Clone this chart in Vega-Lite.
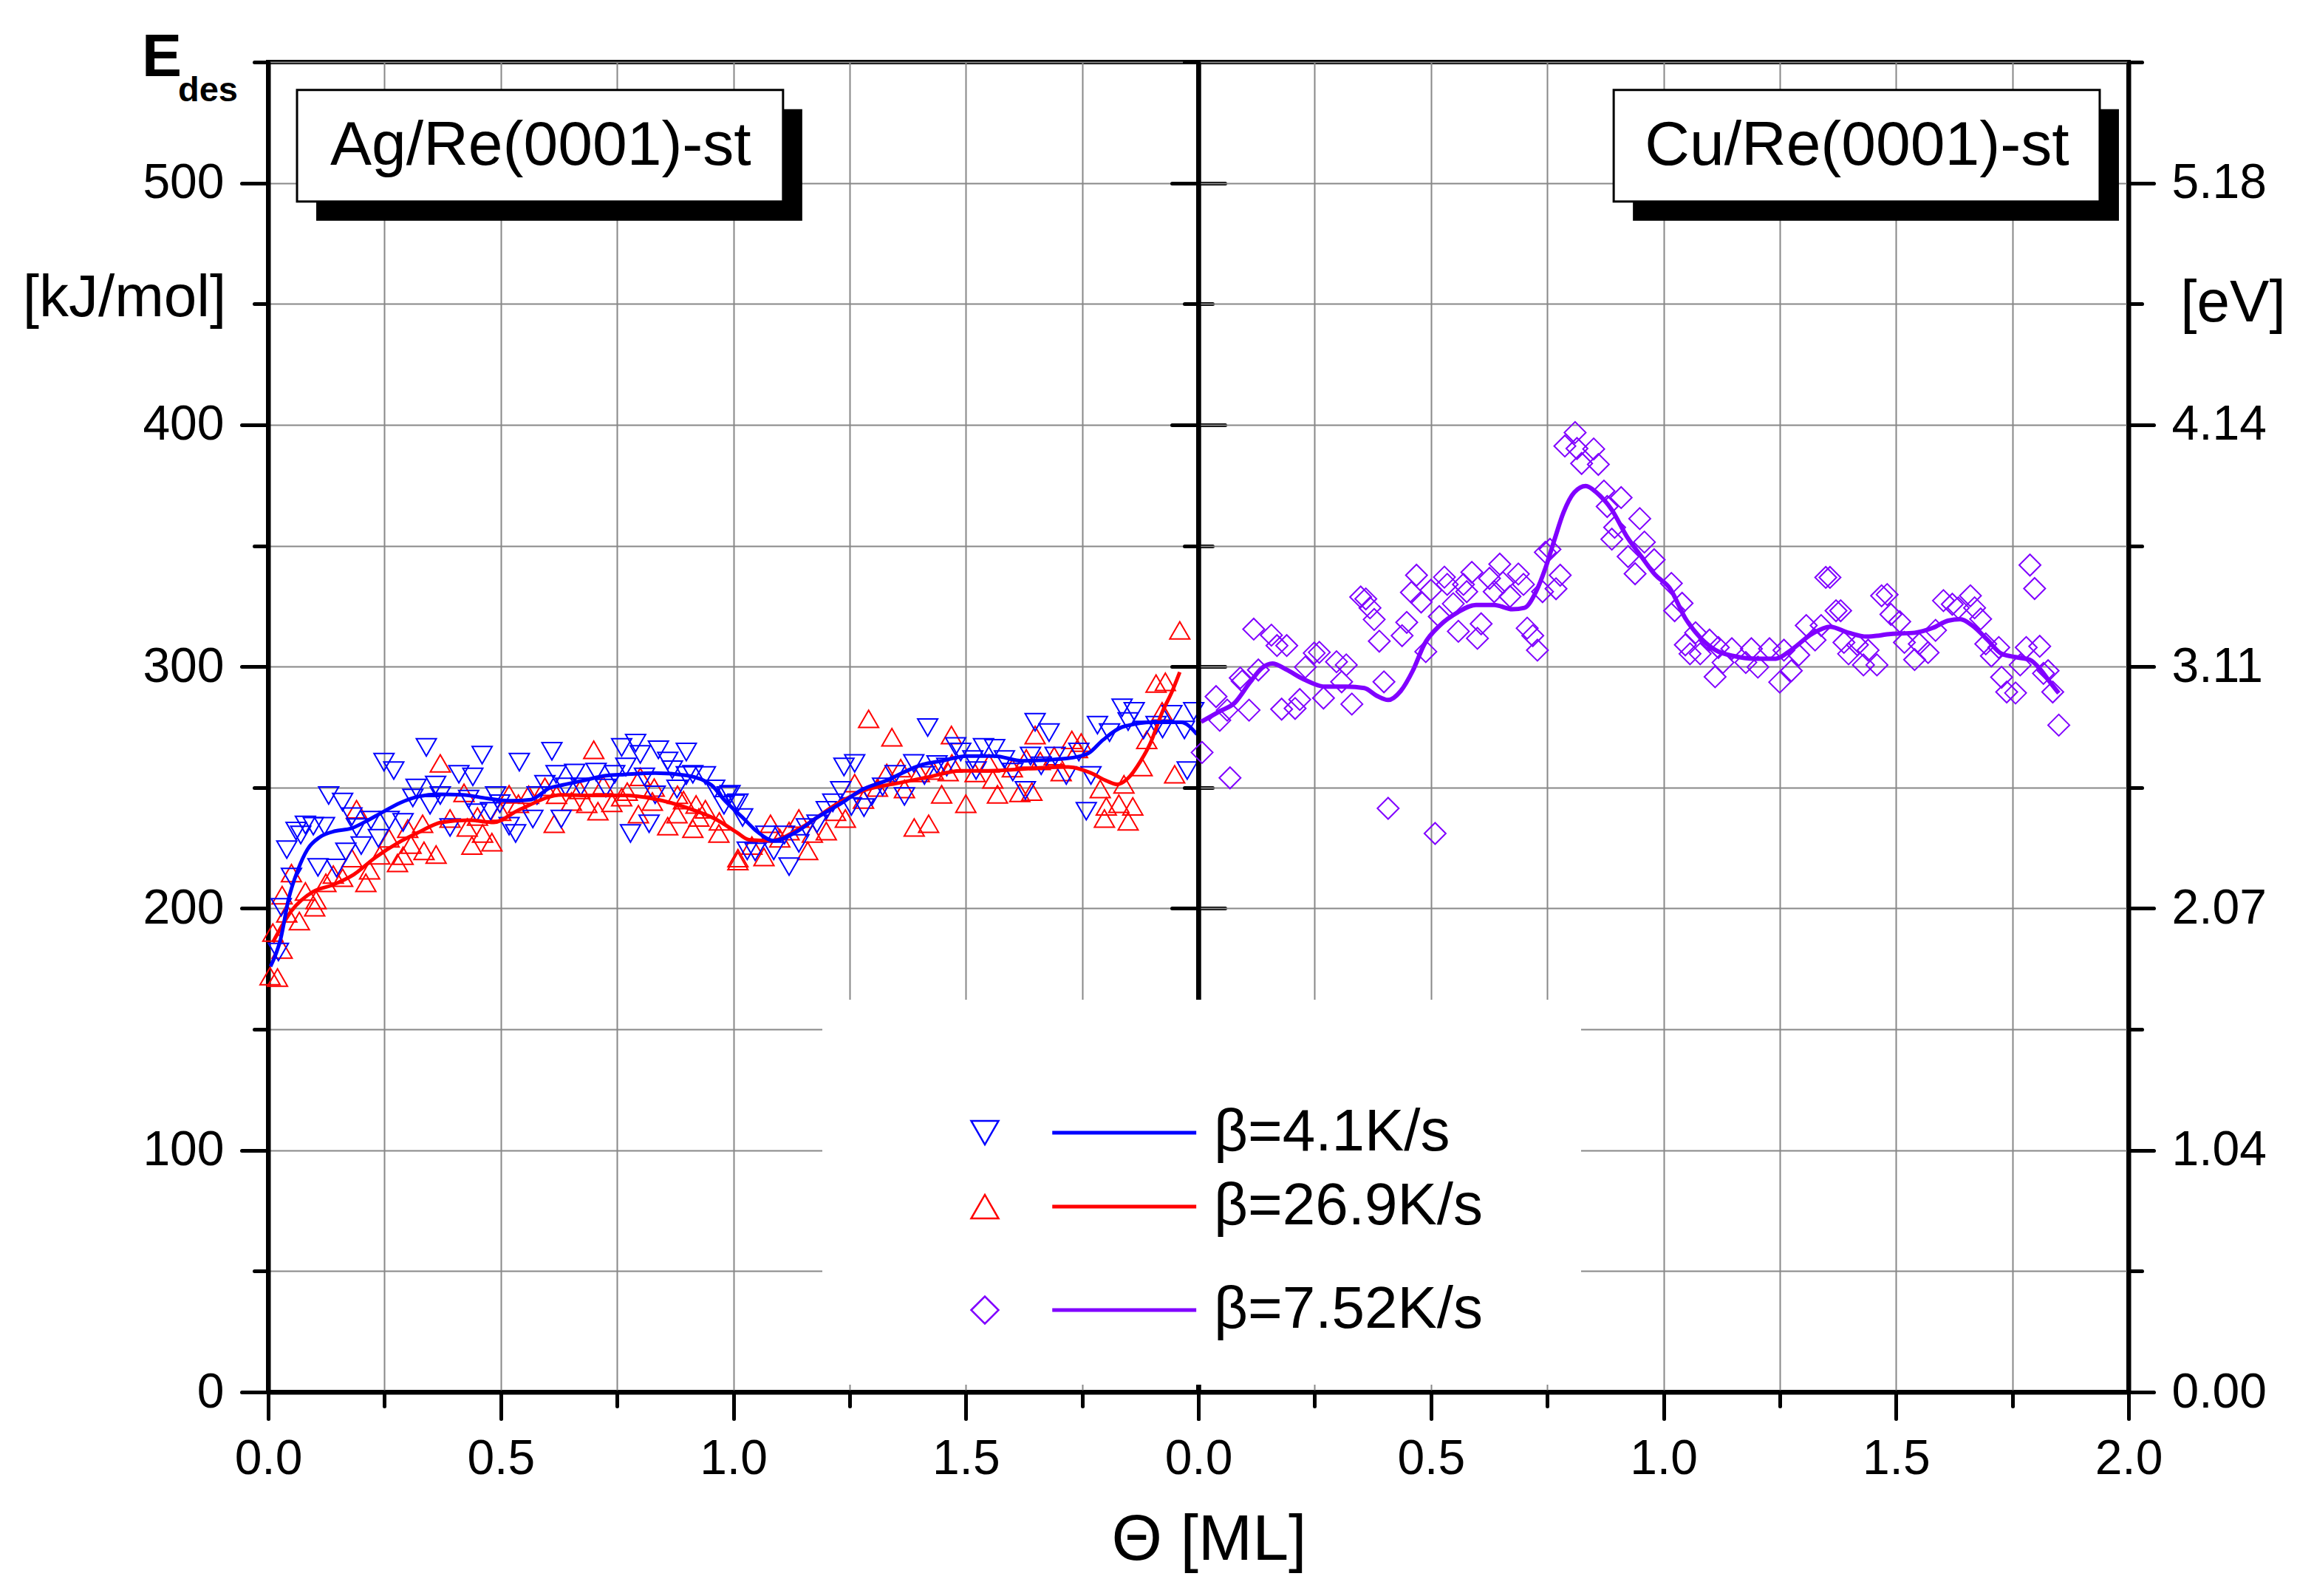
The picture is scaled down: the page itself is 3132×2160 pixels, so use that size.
{
"$schema": "https://vega.github.io/schema/vega-lite/v6.json",
"autosize": {"type": "none"},
"padding": {"left": 363, "top": 84, "right": 2769, "bottom": 2076},
"background": "white",
"config": {
  "font": "Liberation Sans",
  "view": {"stroke": "black", "strokeWidth": 6},
  "axis": {"labelFont": "Liberation Sans", "titleFont": "Liberation Sans", "labelColor": "black", "titleColor": "black", "domainColor": "black", "domainWidth": 6, "tickColor": "black", "tickWidth": 5, "tickCap": "round", "gridColor": "#888888", "gridWidth": 2, "labelFontSize": 66, "titleFontWeight": "normal", "labelOverlap": false, "labelFlush": false}
},
"datasets": {
  "blue": [{"theta":0.022,"E":182},{"theta":0.028,"E":200.5},{"theta":0.05,"E":213},{"theta":0.04,"E":224.3},{"theta":0.06,"E":232},{"theta":0.08,"E":234.5},{"theta":0.097,"E":234},{"theta":0.121,"E":234},{"theta":0.07,"E":230.4},{"theta":0.13,"E":246.7},{"theta":0.16,"E":244},{"theta":0.107,"E":217},{"theta":0.147,"E":216.7},{"theta":0.167,"E":223.4},{"theta":0.18,"E":238},{"theta":0.19,"E":233.5},{"theta":0.221,"E":236.5},{"theta":0.2,"E":226},{"theta":0.237,"E":229},{"theta":0.249,"E":260.5},{"theta":0.27,"E":257},{"theta":0.26,"E":236.5},{"theta":0.29,"E":235.6},{"theta":0.318,"E":249.8},{"theta":0.34,"E":266.6},{"theta":0.311,"E":245.7},{"theta":0.36,"E":251},{"theta":0.37,"E":246.7},{"theta":0.348,"E":242.7},{"theta":0.391,"E":233.5},{"theta":0.41,"E":255.5},{"theta":0.44,"E":254.4},{"theta":0.46,"E":263.4},{"theta":0.431,"E":245.2},{"theta":0.448,"E":239.6},{"theta":0.478,"E":240.2},{"theta":0.498,"E":243.3},{"theta":0.489,"E":246.7},{"theta":0.532,"E":231},{"theta":0.518,"E":234},{"theta":0.54,"E":260.5},{"theta":0.569,"E":237},{"theta":0.578,"E":246.7},{"theta":0.61,"E":265},{"theta":0.595,"E":251.3},{"theta":0.619,"E":255.5},{"theta":0.63,"E":237},{"theta":0.659,"E":256},{"theta":0.639,"E":250.3},{"theta":0.672,"E":250.3},{"theta":0.705,"E":256.4},{"theta":0.726,"E":249.8},{"theta":0.745,"E":255.5},{"theta":0.76,"E":266.6},{"theta":0.79,"E":268.4},{"theta":0.8,"E":263.7},{"theta":0.769,"E":258.5},{"theta":0.779,"E":231},{"theta":0.819,"E":235},{"theta":0.809,"E":254.4},{"theta":0.832,"E":247},{"theta":0.839,"E":265.6},{"theta":0.859,"E":261},{"theta":0.879,"E":249.4},{"theta":0.899,"E":264.7},{"theta":0.913,"E":255.5},{"theta":0.94,"E":255},{"theta":0.96,"E":249.4},{"theta":0.987,"E":246.7},{"theta":0.98,"E":242.7},{"theta":1.003,"E":243.3},{"theta":0.899,"E":255},{"theta":0.869,"E":257.4},{"theta":0.993,"E":247.2},{"theta":1.01,"E":243.7},{"theta":1.02,"E":237.6},{"theta":1.03,"E":223.8},{"theta":1.047,"E":223.4},{"theta":1.07,"E":230.4},{"theta":1.087,"E":223.8},{"theta":1.11,"E":230.4},{"theta":1.12,"E":217.3},{"theta":1.141,"E":226.9},{"theta":1.157,"E":233.5},{"theta":1.18,"E":235},{"theta":1.2,"E":240.6},{"theta":1.214,"E":243.7},{"theta":1.238,"E":258.5},{"theta":1.261,"E":260},{"theta":1.231,"E":248.8},{"theta":1.254,"E":242.2},{"theta":1.281,"E":241.7},{"theta":1.298,"E":246.3},{"theta":1.321,"E":250.3},{"theta":1.348,"E":255.5},{"theta":1.368,"E":246.3},{"theta":1.388,"E":260},{"theta":1.418,"E":274.8},{"theta":1.411,"E":255},{"theta":1.438,"E":259.5},{"theta":1.459,"E":258.5},{"theta":1.478,"E":267},{"theta":1.489,"E":264.7},{"theta":1.515,"E":261.6},{"theta":1.538,"E":266.6},{"theta":1.562,"E":266.2},{"theta":1.583,"E":261.6},{"theta":1.522,"E":257},{"theta":1.601,"E":256.4},{"theta":1.628,"E":248.8},{"theta":1.639,"E":263},{"theta":1.649,"E":277},{"theta":1.679,"E":272.7},{"theta":1.662,"E":259},{"theta":1.692,"E":263},{"theta":1.716,"E":255},{"theta":1.743,"E":264.7},{"theta":1.759,"E":240.2},{"theta":1.769,"E":255},{"theta":1.783,"E":275.8},{"theta":1.809,"E":272.7},{"theta":1.836,"E":283},{"theta":1.862,"E":281.5},{"theta":1.882,"E":273.8},{"theta":1.909,"E":275.8},{"theta":1.943,"E":280.3},{"theta":1.97,"E":273.8},{"theta":1.99,"E":281.5},{"theta":1.976,"E":257},{"theta":1.923,"E":274.2},{"theta":1.849,"E":277.3}],
  "red": [{"theta":0.02,"E":171.4},{"theta":0.004,"E":172},{"theta":0.03,"E":183},{"theta":0.067,"E":194.8},{"theta":0.05,"E":214.6},{"theta":0.03,"E":205.5},{"theta":0.103,"E":203.5},{"theta":0.124,"E":210.6},{"theta":0.1,"E":200.5},{"theta":0.16,"E":212.7},{"theta":0.19,"E":241},{"theta":0.21,"E":210.6},{"theta":0.218,"E":215.8},{"theta":0.18,"E":220.8},{"theta":0.278,"E":218.8},{"theta":0.29,"E":221.8},{"theta":0.307,"E":226.4},{"theta":0.335,"E":223.8},{"theta":0.361,"E":222.3},{"theta":0.37,"E":260},{"theta":0.332,"E":235},{"theta":0.391,"E":237.2},{"theta":0.421,"E":247.8},{"theta":0.438,"E":226},{"theta":0.481,"E":227.4},{"theta":0.461,"E":231},{"theta":0.428,"E":233.5},{"theta":0.518,"E":247.2},{"theta":0.538,"E":243.3},{"theta":0.595,"E":250.3},{"theta":0.615,"E":235},{"theta":0.652,"E":244.2},{"theta":0.685,"E":243.3},{"theta":0.7,"E":265.6},{"theta":0.709,"E":240.2},{"theta":0.739,"E":243.7},{"theta":0.772,"E":248.3},{"theta":0.8,"E":254.4},{"theta":0.796,"E":239},{"theta":0.826,"E":244.2},{"theta":0.859,"E":234},{"theta":0.879,"E":239},{"theta":0.913,"E":233},{"theta":0.94,"E":241},{"theta":0.969,"E":231},{"theta":1.01,"E":220.8},{"theta":0.926,"E":237.6},{"theta":0.893,"E":244.8},{"theta":0.45,"E":238},{"theta":0.5,"E":240},{"theta":0.56,"E":247},{"theta":0.62,"E":247},{"theta":0.67,"E":249},{"theta":0.72,"E":251},{"theta":0.76,"E":246},{"theta":0.83,"E":250},{"theta":0.88,"E":247},{"theta":0.92,"E":243},{"theta":0.97,"E":236},{"theta":0.01,"E":190},{"theta":0.04,"E":198},{"theta":0.08,"E":207},{"theta":0.14,"E":214},{"theta":0.24,"E":222},{"theta":0.26,"E":229},{"theta":0.3,"E":233},{"theta":1.01,"E":219.6},{"theta":1.066,"E":221.3},{"theta":1.08,"E":235},{"theta":1.141,"E":237.2},{"theta":1.16,"E":223.8},{"theta":1.2,"E":232},{"theta":1.241,"E":237.2},{"theta":1.261,"E":251.8},{"theta":1.291,"E":278.4},{"theta":1.341,"E":270.8},{"theta":1.368,"E":249.4},{"theta":1.389,"E":233.5},{"theta":1.42,"E":235},{"theta":1.448,"E":247.2},{"theta":1.469,"E":271.7},{"theta":1.462,"E":256.4},{"theta":1.5,"E":243.3},{"theta":1.558,"E":253.4},{"theta":1.568,"E":247.2},{"theta":1.616,"E":247.8},{"theta":1.642,"E":248.3},{"theta":1.649,"E":271.7},{"theta":1.705,"E":256.4},{"theta":1.728,"E":269.7},{"theta":1.748,"E":268.6},{"theta":1.789,"E":249.4},{"theta":1.802,"E":242.2},{"theta":1.798,"E":237.2},{"theta":1.829,"E":243.3},{"theta":1.849,"E":236},{"theta":1.84,"E":251.3},{"theta":1.859,"E":242.2},{"theta":1.879,"E":258.5},{"theta":1.889,"E":269.7},{"theta":1.909,"E":293},{"theta":1.929,"E":293.7},{"theta":1.922,"E":281.5},{"theta":1.949,"E":255.5},{"theta":1.96,"E":315},{"theta":1.04,"E":226},{"theta":1.1,"E":229},{"theta":1.12,"E":232},{"theta":1.17,"E":231},{"theta":1.22,"E":240},{"theta":1.28,"E":245},{"theta":1.31,"E":250},{"theta":1.33,"E":256},{"theta":1.36,"E":258},{"theta":1.4,"E":256},{"theta":1.43,"E":257},{"theta":1.47,"E":260},{"theta":1.52,"E":256},{"theta":1.55,"E":260},{"theta":1.6,"E":258},{"theta":1.63,"E":262},{"theta":1.66,"E":261},{"theta":1.69,"E":263},{"theta":1.74,"E":266}],
  "purple": [{"theta":0.008,"E":264.5},{"theta":0.068,"E":254},{"theta":0.038,"E":287.6},{"theta":0.046,"E":277.8},{"theta":0.062,"E":282},{"theta":0.09,"E":295.3},{"theta":0.094,"E":294},{"theta":0.129,"E":298.6},{"theta":0.109,"E":282},{"theta":0.119,"E":315.5},{"theta":0.157,"E":313},{"theta":0.169,"E":308.7},{"theta":0.19,"E":308.7},{"theta":0.179,"E":282.4},{"theta":0.208,"E":282.7},{"theta":0.218,"E":286.4},{"theta":0.23,"E":299.8},{"theta":0.249,"E":305.6},{"theta":0.26,"E":305.9},{"theta":0.269,"E":287},{"theta":0.297,"E":302},{"theta":0.318,"E":300.7},{"theta":0.308,"E":293.7},{"theta":0.33,"E":284.5},{"theta":0.349,"E":328.8},{"theta":0.36,"E":328},{"theta":0.369,"E":324.3},{"theta":0.378,"E":319.5},{"theta":0.389,"E":310.5},{"theta":0.399,"E":293.7},{"theta":0.408,"E":241.4},{"theta":0.438,"E":312.8},{"theta":0.448,"E":318.3},{"theta":0.469,"E":337.8},{"theta":0.458,"E":330.7},{"theta":0.479,"E":326.7},{"theta":0.5,"E":331.6},{"theta":0.489,"E":306.2},{"theta":0.509,"E":231},{"theta":0.518,"E":320.7},{"theta":0.529,"E":337},{"theta":0.535,"E":334},{"theta":0.548,"E":326},{"theta":0.559,"E":314.6},{"theta":0.57,"E":334},{"theta":0.577,"E":331},{"theta":0.588,"E":339},{"theta":0.6,"E":311.7},{"theta":0.608,"E":317.7},{"theta":0.626,"E":336.5},{"theta":0.636,"E":331},{"theta":0.648,"E":342.4},{"theta":0.655,"E":334.7},{"theta":0.67,"E":329},{"theta":0.688,"E":338.3},{"theta":0.699,"E":334},{"theta":0.707,"E":315.9},{"theta":0.719,"E":312.8},{"theta":0.729,"E":306.8},{"theta":0.74,"E":331},{"theta":0.756,"E":348.5},{"theta":0.769,"E":332.2},{"theta":0.778,"E":337.8},{"theta":0.746,"E":347.3},{"theta":0.788,"E":391.2},{"theta":0.81,"E":396.8},{"theta":0.814,"E":390.2},{"theta":0.824,"E":384},{"theta":0.85,"E":390},{"theta":0.86,"E":383.6},{"theta":0.872,"E":372.6},{"theta":0.879,"E":366.2},{"theta":0.909,"E":369.9},{"theta":0.895,"E":357.6},{"theta":0.889,"E":352.7},{"theta":0.949,"E":361.2},{"theta":0.924,"E":345.5},{"theta":0.959,"E":351.5},{"theta":0.939,"E":338.4},{"theta":0.98,"E":344.2},{"theta":1.017,"E":334.4},{"theta":1.04,"E":326.2},{"theta":1.024,"E":323.1},{"theta":1.069,"E":314},{"theta":1.047,"E":309},{"theta":1.057,"E":305.3},{"theta":1.079,"E":305.3},{"theta":1.099,"E":311},{"theta":1.118,"E":307.9},{"theta":1.111,"E":295.8},{"theta":1.128,"E":301.7},{"theta":1.147,"E":307.4},{"theta":1.177,"E":301.7},{"theta":1.189,"E":307.4},{"theta":1.203,"E":299.8},{"theta":1.228,"E":307.4},{"theta":1.25,"E":293.6},{"theta":1.259,"E":306.8},{"theta":1.275,"E":298.3},{"theta":1.291,"E":304.8},{"theta":1.307,"E":317},{"theta":1.326,"E":311},{"theta":1.339,"E":317},{"theta":1.349,"E":336.9},{"theta":1.358,"E":336.9},{"theta":1.371,"E":323.1},{"theta":1.381,"E":323.1},{"theta":1.388,"E":310},{"theta":1.398,"E":305.3},{"theta":1.417,"E":309},{"theta":1.43,"E":300.7},{"theta":1.44,"E":306.8},{"theta":1.459,"E":300.7},{"theta":1.469,"E":329.3},{"theta":1.481,"E":329.8},{"theta":1.489,"E":321.6},{"theta":1.508,"E":318.6},{"theta":1.518,"E":310},{"theta":1.54,"E":302.9},{"theta":1.55,"E":309.4},{"theta":1.569,"E":305.8},{"theta":1.585,"E":315},{"theta":1.602,"E":327.3},{"theta":1.621,"E":325.8},{"theta":1.634,"E":324.3},{"theta":1.66,"E":329.3},{"theta":1.669,"E":324.3},{"theta":1.682,"E":319.7},{"theta":1.693,"E":309.4},{"theta":1.705,"E":304.4},{"theta":1.721,"E":307.9},{"theta":1.727,"E":295.6},{"theta":1.738,"E":289.5},{"theta":1.757,"E":289.1},{"theta":1.767,"E":300.7},{"theta":1.78,"E":307.9},{"theta":1.809,"E":308.4},{"theta":1.788,"E":342},{"theta":1.798,"E":332.3},{"theta":1.817,"E":297.2},{"theta":1.827,"E":298.3},{"theta":1.837,"E":289.5},{"theta":1.85,"E":275.8}],
  "blue_fit": [{"theta":0.005,"E":176},{"theta":0.027,"E":187.6},{"theta":0.044,"E":204},{"theta":0.064,"E":216},{"theta":0.084,"E":224.3},{"theta":0.111,"E":229.5},{"theta":0.144,"E":232},{"theta":0.177,"E":233},{"theta":0.21,"E":236},{"theta":0.244,"E":239.6},{"theta":0.284,"E":243.7},{"theta":0.324,"E":246.3},{"theta":0.365,"E":247.2},{"theta":0.418,"E":247},{"theta":0.47,"E":245.5},{"theta":0.52,"E":244.5},{"theta":0.565,"E":245},{"theta":0.605,"E":249.8},{"theta":0.632,"E":251},{"theta":0.68,"E":253},{"theta":0.726,"E":254.9},{"theta":0.766,"E":255.4},{"theta":0.832,"E":256},{"theta":0.9,"E":255},{"theta":0.953,"E":251},{"theta":0.98,"E":245},{"theta":1.02,"E":237.6},{"theta":1.053,"E":231.5},{"theta":1.087,"E":228},{"theta":1.134,"E":231.5},{"theta":1.18,"E":237.6},{"theta":1.234,"E":243.7},{"theta":1.274,"E":248.8},{"theta":1.328,"E":252.8},{"theta":1.407,"E":259.5},{"theta":1.448,"E":261},{"theta":1.502,"E":263},{"theta":1.561,"E":263},{"theta":1.622,"E":261},{"theta":1.716,"E":262},{"theta":1.762,"E":264},{"theta":1.795,"E":269.7},{"theta":1.836,"E":275},{"theta":1.903,"E":277},{"theta":1.963,"E":277},{"theta":1.997,"E":272}],
  "red_fit": [{"theta":0.01,"E":186},{"theta":0.05,"E":199},{"theta":0.097,"E":207},{"theta":0.137,"E":209.6},{"theta":0.184,"E":214},{"theta":0.23,"E":221},{"theta":0.278,"E":227},{"theta":0.324,"E":231.5},{"theta":0.372,"E":235.6},{"theta":0.431,"E":236.5},{"theta":0.485,"E":235.6},{"theta":0.538,"E":240.6},{"theta":0.632,"E":247},{"theta":0.699,"E":246.7},{"theta":0.766,"E":246.7},{"theta":0.832,"E":245.2},{"theta":0.899,"E":241.7},{"theta":0.966,"E":236.5},{"theta":1.007,"E":231.5},{"theta":1.034,"E":228.4},{"theta":1.08,"E":228},{"theta":1.147,"E":233.5},{"theta":1.227,"E":243.7},{"theta":1.281,"E":248.8},{"theta":1.354,"E":251.8},{"theta":1.421,"E":254.4},{"theta":1.488,"E":256.9},{"theta":1.548,"E":256.9},{"theta":1.65,"E":258},{"theta":1.72,"E":258.5},{"theta":1.769,"E":256},{"theta":1.802,"E":252.8},{"theta":1.826,"E":251.3},{"theta":1.849,"E":253.9},{"theta":1.876,"E":261},{"theta":1.896,"E":268},{"theta":1.923,"E":281.5},{"theta":1.943,"E":289.5},{"theta":1.96,"E":297.7}],
  "purple_fit": [{"theta":0.006,"E":277.2},{"theta":0.046,"E":281.5},{"theta":0.078,"E":285},{"theta":0.111,"E":293.5},{"theta":0.137,"E":299.5},{"theta":0.159,"E":301.3},{"theta":0.188,"E":298.9},{"theta":0.227,"E":294.7},{"theta":0.273,"E":291.7},{"theta":0.318,"E":291.7},{"theta":0.357,"E":291.1},{"theta":0.383,"E":288},{"theta":0.408,"E":286.2},{"theta":0.435,"E":289.9},{"theta":0.461,"E":298.3},{"theta":0.486,"E":309.3},{"theta":0.519,"E":317},{"theta":0.558,"E":322.5},{"theta":0.597,"E":325.5},{"theta":0.636,"E":325.5},{"theta":0.675,"E":323.7},{"theta":0.701,"E":324.3},{"theta":0.726,"E":331},{"theta":0.746,"E":340.6},{"theta":0.766,"E":352.7},{"theta":0.785,"E":363.7},{"theta":0.808,"E":372},{"theta":0.833,"E":374.7},{"theta":0.856,"E":372},{"theta":0.889,"E":364.8},{"theta":0.921,"E":353.9},{"theta":0.953,"E":345.4},{"theta":0.982,"E":338},{"theta":1.014,"E":332.3},{"theta":1.047,"E":320},{"theta":1.079,"E":312},{"theta":1.112,"E":306.8},{"theta":1.15,"E":304.4},{"theta":1.196,"E":303.3},{"theta":1.242,"E":303.3},{"theta":1.274,"E":306.8},{"theta":1.32,"E":313.6},{"theta":1.358,"E":316.5},{"theta":1.398,"E":314},{"theta":1.437,"E":312.4},{"theta":1.489,"E":313.5},{"theta":1.54,"E":314},{"theta":1.579,"E":316},{"theta":1.612,"E":319},{"theta":1.638,"E":319.6},{"theta":1.664,"E":317},{"theta":1.697,"E":311},{"theta":1.727,"E":305.3},{"theta":1.761,"E":303.8},{"theta":1.788,"E":302.8},{"theta":1.811,"E":298.7},{"theta":1.831,"E":293.6},{"theta":1.85,"E":289}]
},
"spacing": 0,
"bounds": "flush",
"hconcat": [
 {
  "width": 1259, "height": 1800,
  "resolve": {"axis": {"y": "independent"}},
  "layer": [
   {
    "data": {"name": "red"},
    "mark": {"type": "point", "shape": "triangle-up", "filled": false, "color": "#ff0000", "size": 729, "strokeWidth": 2, "opacity": 1},
    "encoding": {
      "x": {"field": "theta", "type": "quantitative", "scale": {"domain": [0, 2], "nice": false, "zero": false},
        "axis": {"values": [0,0.25,0.5,0.75,1,1.25,1.5,1.75,2], "grid": true, "labelExpr": "(datum.value % 0.5 === 0 && datum.value < 2) ? format(datum.value, '.1f') : ''", "labelPadding": 22, "tickSize": {"condition": {"test": "datum.value % 0.5 === 0", "value": 36}, "value": 19}, "title": null}},
      "y": {"field": "E", "type": "quantitative", "scale": {"domain": [0, 550], "nice": false},
        "axis": {"orient": "left", "values": [0,50,100,150,200,250,300,350,400,450,500,550], "grid": true, "labelExpr": "(datum.value % 100 === 0 && datum.value <= 500) ? datum.label : ''", "labelPadding": 24, "tickSize": {"condition": {"test": "datum.value % 100 === 0", "value": 36}, "value": 19}, "title": "[kJ/mol]", "titleX": -195, "titleY": 319, "titleAngle": 0, "titleAlign": "center", "titleBaseline": "middle", "titleFontSize": 80}}
    }
   },
   {
    "data": {"name": "blue"},
    "mark": {"type": "point", "shape": "triangle-down", "filled": false, "color": "#0000ff", "size": 729, "strokeWidth": 2, "opacity": 1},
    "encoding": {
      "x": {"field": "theta", "type": "quantitative"},
      "y": {"field": "E", "type": "quantitative", "axis": null}
    }
   },
   {
    "data": {"name": "red_fit"},
    "mark": {"type": "line", "color": "#ff0000", "strokeWidth": 5, "interpolate": "monotone"},
    "encoding": {
      "x": {"field": "theta", "type": "quantitative"},
      "y": {"field": "E", "type": "quantitative", "axis": null}
    }
   },
   {
    "data": {"name": "blue_fit"},
    "mark": {"type": "line", "color": "#0000ff", "strokeWidth": 5, "interpolate": "monotone"},
    "encoding": {
      "x": {"field": "theta", "type": "quantitative"},
      "y": {"field": "E", "type": "quantitative",
        "axis": {"orient": "right", "values": [0,50,100,150,200,250,300,350,400,450,500,550], "grid": false, "labels": false, "tickSize": {"condition": {"test": "datum.value % 100 === 0", "value": 36}, "value": 19}, "title": null}}
    }
   },
   {
    "data": {"values": [{}]},
    "mark": {"type": "point", "filled": false, "opacity": 0, "strokeWidth": 2.5},
    "encoding": {
      "x": {"datum": 1, "type": "quantitative"},
      "y": {"datum": 100, "type": "quantitative", "axis": null},
      "color": {"datum": "β=4.1K/s", "type": "nominal",
        "scale": {"domain": ["β=4.1K/s", "β=26.9K/s", "β=7.52K/s"], "range": ["#0000ff", "#ff0000", "#8000ff"]},
        "legend": {"orient": "none", "legendX": 750, "legendY": 1269, "title": " ", "titleFontSize": 20, "titlePadding": 120, "padding": 0, "fillColor": "white", "symbolSize": 1369, "symbolStrokeWidth": 2.5, "symbolOpacity": 1, "symbolOffset": 180, "labelFontSize": 80, "labelFont": "Liberation Sans", "labelColor": "black", "labelOffset": 270, "labelLimit": 1000, "rowPadding": 0, "gridAlign": "each", "direction": "vertical"}},
      "shape": {"datum": "β=4.1K/s", "type": "nominal",
        "scale": {"domain": ["β=4.1K/s", "β=26.9K/s", "β=7.52K/s"], "range": ["M43.3,-2.43M43.3,2.43M-1,-0.866L1,-0.866L0,0.866ZM5,-0.07L15.4,-0.07L15.4,0.07L5,0.07Z", "M43.3,-2.43M43.3,2.97M-1,0.866L1,0.866L0,-0.866ZM5,-0.07L15.4,-0.07L15.4,0.07L5,0.07Z", "M43.3,-4.05M43.3,5.14M-1,0L0,-1L1,0L0,1ZM5,-0.07L15.4,-0.07L15.4,0.07L5,0.07Z"]},
        "legend": {"orient": "none", "legendX": 750, "legendY": 1269, "title": " ", "titleFontSize": 20, "titlePadding": 120, "padding": 0, "fillColor": "white", "symbolSize": 1369, "symbolStrokeWidth": 2.5, "symbolOpacity": 1, "symbolOffset": 180, "labelFontSize": 80, "labelFont": "Liberation Sans", "labelColor": "black", "labelOffset": 270, "labelLimit": 1000, "rowPadding": 0, "gridAlign": "each", "direction": "vertical"}}
    }
   },
   {
    "data": {"values": [{}]},
    "mark": {"type": "rect", "color": "black", "xOffset": 26, "x2Offset": 26, "yOffset": 26, "y2Offset": 26},
    "encoding": {
      "x": {"datum": 0.062, "type": "quantitative"},
      "x2": {"datum": 1.107},
      "y": {"datum": 538.5, "type": "quantitative", "axis": null},
      "y2": {"datum": 492.3}
    }
   },
   {
    "data": {"values": [{}]},
    "mark": {"type": "rect", "fill": "white", "stroke": "black", "strokeWidth": 3},
    "encoding": {
      "x": {"datum": 0.062, "type": "quantitative"},
      "x2": {"datum": 1.107},
      "y": {"datum": 538.5, "type": "quantitative", "axis": null},
      "y2": {"datum": 492.3}
    }
   },
   {
    "data": {"values": [{}]},
    "mark": {"type": "text", "text": "Ag/Re(0001)-st", "fontSize": 84, "font": "Liberation Sans", "color": "black", "align": "center", "baseline": "alphabetic"},
    "encoding": {
      "x": {"datum": 0.586, "type": "quantitative"},
      "y": {"datum": 507.5, "type": "quantitative", "axis": null}
    }
   },
   {
    "data": {"values": [{}]},
    "mark": {"type": "text", "text": "E", "fontSize": 81, "fontWeight": "bold", "font": "Liberation Sans", "color": "black", "align": "left", "baseline": "alphabetic"},
    "encoding": {
      "x": {"datum": -0.2716, "type": "quantitative"},
      "y": {"datum": 544.3, "type": "quantitative", "axis": null}
    }
   },
   {
    "data": {"values": [{}]},
    "mark": {"type": "text", "text": "des", "fontSize": 47, "fontWeight": "bold", "font": "Liberation Sans", "color": "black", "align": "left", "baseline": "alphabetic"},
    "encoding": {
      "x": {"datum": -0.1938, "type": "quantitative"},
      "y": {"datum": 533.9, "type": "quantitative", "axis": null}
    }
   }
  ]
 },
 {
  "width": 1259, "height": 1800,
  "resolve": {"axis": {"y": "independent"}},
  "layer": [
   {
    "data": {"name": "purple"},
    "mark": {"type": "point", "shape": "diamond", "filled": false, "color": "#8000ff", "size": 841, "strokeWidth": 2, "opacity": 1},
    "encoding": {
      "x": {"field": "theta", "type": "quantitative", "scale": {"domain": [0, 2], "nice": false, "zero": false},
        "axis": {"values": [0,0.25,0.5,0.75,1,1.25,1.5,1.75,2], "grid": true, "labelExpr": "(datum.value % 0.5 === 0) ? format(datum.value, '.1f') : ''", "labelPadding": 22, "tickSize": {"condition": {"test": "datum.value % 0.5 === 0", "value": 36}, "value": 19}, "title": "Θ [ML]", "titleX": 14, "titleY": 200, "titleAngle": 0, "titleAlign": "center", "titleBaseline": "middle", "titleFontSize": 88}},
      "y": {"field": "E", "type": "quantitative", "scale": {"domain": [0, 550], "nice": false},
        "axis": {"orient": "left", "values": [0,50,100,150,200,250,300,350,400,450,500,550], "grid": true, "labels": false, "tickSize": {"condition": {"test": "datum.value % 100 === 0", "value": 36}, "value": 19}, "title": null}}
    }
   },
   {
    "data": {"name": "purple_fit"},
    "mark": {"type": "line", "color": "#8000ff", "strokeWidth": 6, "interpolate": "monotone"},
    "encoding": {
      "x": {"field": "theta", "type": "quantitative"},
      "y": {"field": "E", "type": "quantitative",
        "axis": {"orient": "right", "values": [0,50,100,150,200,250,300,350,400,450,500,550], "grid": false, "labelExpr": "(datum.value % 100 === 0 && datum.value <= 500) ? format(datum.value / 96.6, '.2f') : ''", "labelPadding": 24, "tickSize": {"condition": {"test": "datum.value % 100 === 0", "value": 34}, "value": 18}, "title": "[eV]", "titleX": 141, "titleY": 326, "titleAngle": 0, "titleAlign": "center", "titleBaseline": "middle", "titleFontSize": 80}}
    }
   },
   {
    "data": {"values": [{}]},
    "mark": {"type": "rect", "color": "black", "xOffset": 26, "x2Offset": 26, "yOffset": 26, "y2Offset": 26},
    "encoding": {
      "x": {"datum": 0.893, "type": "quantitative"},
      "x2": {"datum": 1.938},
      "y": {"datum": 538.5, "type": "quantitative", "axis": null},
      "y2": {"datum": 492.3}
    }
   },
   {
    "data": {"values": [{}]},
    "mark": {"type": "rect", "fill": "white", "stroke": "black", "strokeWidth": 3},
    "encoding": {
      "x": {"datum": 0.893, "type": "quantitative"},
      "x2": {"datum": 1.938},
      "y": {"datum": 538.5, "type": "quantitative", "axis": null},
      "y2": {"datum": 492.3}
    }
   },
   {
    "data": {"values": [{}]},
    "mark": {"type": "text", "text": "Cu/Re(0001)-st", "fontSize": 84, "font": "Liberation Sans", "color": "black", "align": "center", "baseline": "alphabetic"},
    "encoding": {
      "x": {"datum": 1.416, "type": "quantitative"},
      "y": {"datum": 507.5, "type": "quantitative", "axis": null}
    }
   }
  ]
 }
]
}
